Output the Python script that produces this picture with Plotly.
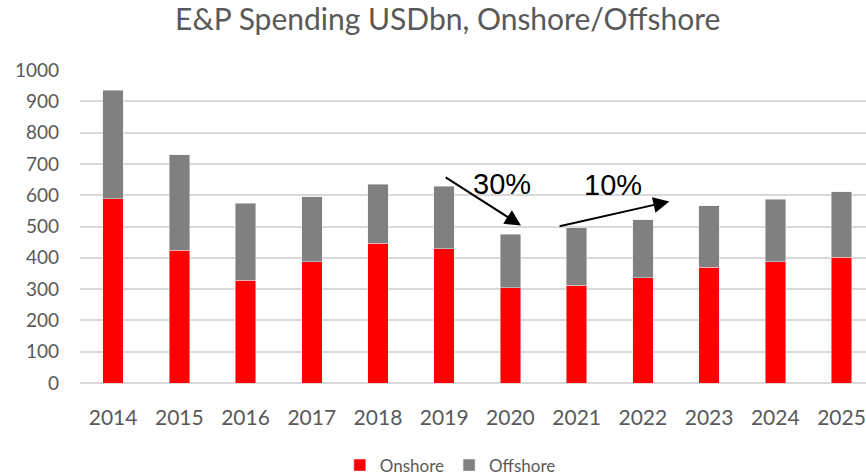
import plotly.graph_objects as go

years = ["2014", "2015", "2016", "2017", "2018", "2019", "2020", "2021", "2022", "2023", "2024", "2025"]
onshore = [588, 424, 329, 388, 446, 429, 305, 312, 336, 370, 388, 401]
total = [935, 730, 574, 595, 635, 629, 475, 496, 522, 567, 587, 611]
offshore = [t - o for t, o in zip(total, onshore)]
y_ticks = [0, 100, 200, 300, 400, 500, 600, 700, 800, 900, 1000]

FONT = "Lato, Carlito, sans-serif"
GREY = "#595959"

fig = go.Figure()
fig.add_trace(go.Bar(x=years, y=onshore, name="Onshore", marker_color="#ff0000"))
fig.add_trace(go.Bar(x=years, y=offshore, name="Offshore", marker_color="#808080"))

fig.update_layout(
    width=866, height=476,
    barmode="stack", bargap=0.69,
    paper_bgcolor="white", plot_bgcolor="white",
    margin=dict(l=80, r=0, t=70, b=93),
    title=dict(text="E&P Spending USDbn, Onshore/Offshore", x=0.517, xref="container",
               xanchor="center", y=0.958, yref="container", yanchor="middle",
               font=dict(family=FONT, size=30, color=GREY)),
    font=dict(family=FONT, color=GREY),
    legend=dict(orientation="h", x=0.52, xanchor="center", xref="container",
                y=0.022, yref="container", yanchor="middle",
                font=dict(family=FONT, size=17, color=GREY),
                itemwidth=30, traceorder="normal"),
    showlegend=True,
)
fig.update_xaxes(type="category", range=[-0.5, 11.37], showgrid=False, showline=False,
                 ticks="", tickfont=dict(family=FONT, size=21, color=GREY), ticklabelstandoff=20)
fig.update_yaxes(range=[0, 1000], tickvals=y_ticks, showgrid=True, gridcolor="#d9d9d9",
                 gridwidth=1.5, zeroline=True, zerolinecolor="#d9d9d9", zerolinewidth=1.5,
                 tickfont=dict(family=FONT, size=19, color=GREY), ticklabelstandoff=20)

fig.add_annotation(x=6.16, y=503, ax=5.0, ay=660, xref="x", yref="y", axref="x", ayref="y",
                   text="", showarrow=True, arrowhead=2, arrowsize=1.6, arrowwidth=2, arrowcolor="black")
fig.add_annotation(x=8.40, y=580, ax=6.72, ay=500, xref="x", yref="y", axref="x", ayref="y",
                   text="", showarrow=True, arrowhead=2, arrowsize=1.6, arrowwidth=2, arrowcolor="black")
fig.add_annotation(x=5.875, y=637, text="30%", showarrow=False,
                   font=dict(family="Liberation Sans, Arial", size=29, color="black"))
fig.add_annotation(x=7.55, y=634, text="10%", showarrow=False,
                   font=dict(family="Liberation Sans, Arial", size=29, color="black"))

fig.write_html("out.html", config={"displayModeBar": False},
               post_script="document.body.style.margin='0';document.body.style.overflow='hidden';")
